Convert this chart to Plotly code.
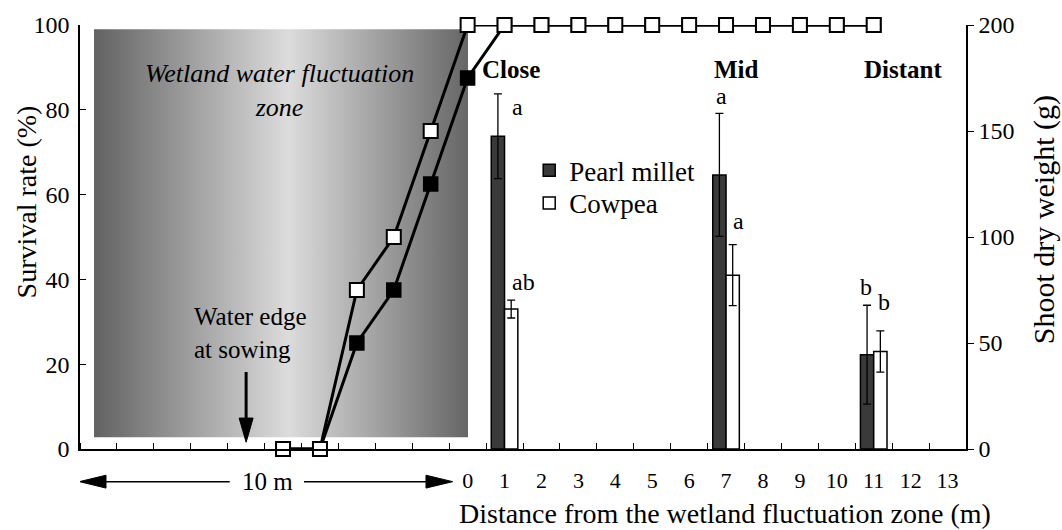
import plotly.graph_objects as go

# ---------------- data ----------------
# positions: negative = inside the 10 m wetland fluctuation zone, 0..13 = distance (m) from it
surv_x = [-5, -4, -3, -2, -1, 0, 1, 2, 3, 4, 5, 6, 7, 8, 9, 10, 11]
millet_surv = [0, 0, 25, 37.5, 62.5, 87.5, 100, 100, 100, 100, 100, 100, 100, 100, 100, 100, 100]
cowpea_surv = [0, 0, 37.5, 50, 75, 100, 100, 100, 100, 100, 100, 100, 100, 100, 100, 100, 100]

bar_x = [1, 7, 11]
zone_names = ["Close", "Mid", "Distant"]
millet_dw = [147.5, 129.3, 44.5]
millet_err = [20.0, 29.0, 23.3]
cowpea_dw = [66.0, 82.0, 46.0]
cowpea_err = [4.2, 14.4, 9.7]
millet_sig = ["a", "a", "b"]
cowpea_sig = ["ab", "a", "b"]

xtick_vals = list(range(0, 14))
xtick_text = [str(v) for v in xtick_vals]
left_ticks = [0, 20, 40, 60, 80, 100]
right_ticks = [0, 50, 100, 150, 200]

FONT = "Liberation Serif, Times New Roman, serif"
BAR_W = 0.36

fig = go.Figure()

# shaded wetland zone (horizontal gradient)
zx0, zx1, zy0, zy1 = -10.12, 0.01, 2.8, 99.0
fig.add_trace(go.Scatter(
    x=[zx0, zx1, zx1, zx0, zx0], y=[zy0, zy0, zy1, zy1, zy0],
    mode="lines", fill="toself", line=dict(width=0),
    fillgradient=dict(type="horizontal",
                      colorscale=[[0, "#626262"], [0.52, "#dcdcdc"], [1, "#666666"]]),
    hoverinfo="skip", showlegend=False))

# survival lines
fig.add_trace(go.Scatter(
    x=surv_x, y=millet_surv, mode="lines+markers", cliponaxis=False,
    line=dict(color="black", width=3),
    marker=dict(symbol="square", size=14, color="black", line=dict(color="black", width=1.5)),
    showlegend=False))
fig.add_trace(go.Scatter(
    x=surv_x, y=cowpea_surv, mode="lines+markers", cliponaxis=False,
    line=dict(color="black", width=3),
    marker=dict(symbol="square", size=14, color="white", line=dict(color="black", width=2)),
    showlegend=False))

# shoot dry weight bars
fig.add_trace(go.Bar(
    x=bar_x, y=millet_dw, name="Pearl millet", yaxis="y2", width=BAR_W, offset=-BAR_W,
    legend="legend",
    marker=dict(color="#3a3a3a", line=dict(color="black", width=1.5)),
    error_y=dict(type="data", array=millet_err, color="black", thickness=1.3, width=4)))
fig.add_trace(go.Bar(
    x=bar_x, y=cowpea_dw, name="Cowpea", yaxis="y2", width=BAR_W, offset=0,
    legend="legend2",
    marker=dict(color="white", line=dict(color="black", width=1.5)),
    error_y=dict(type="data", array=cowpea_err, color="black", thickness=1.3, width=4)))

ann = []
shapes = []
# zone text
ann.append(dict(x=-5.1, y=84.6, xref="x", yref="y", showarrow=False, xanchor="center",
                yanchor="middle", text="<i>Wetland water fluctuation<br>zone</i>",
                font=dict(family=FONT, size=26, color="black")))
ann.append(dict(x=-7.47, y=27.4, xref="x", yref="y", showarrow=False, xanchor="left",
                yanchor="middle", align="left", text="Water edge<br>at sowing",
                font=dict(family=FONT, size=25, color="black")))
# arrow for water edge (line + triangular head)
shapes.append(dict(type="line", xref="x", yref="y", x0=-6, x1=-6, y0=18.15, y1=6.5,
                   line=dict(color="black", width=3)))
shapes.append(dict(type="path", xref="x", yref="y",
                   path="M -6.19 7.3 L -5.81 7.3 L -6 1.6 Z",
                   fillcolor="black", line=dict(color="black", width=1)))
# 10 m arrows below the axis
ya = -0.077
hh = 0.0152
shapes.append(dict(type="line", xref="x", yref="paper", x0=-9.85, x1=-6.445, y0=ya, y1=ya,
                   line=dict(color="black", width=1.5)))
shapes.append(dict(type="line", xref="x", yref="paper", x0=-4.433, x1=-1.1, y0=ya, y1=ya,
                   line=dict(color="black", width=1.5)))
shapes.append(dict(type="path", xref="x", yref="paper",
                   path="M -10.516 %f L -9.796 %f L -9.796 %f Z" % (ya, ya + hh, ya - hh),
                   fillcolor="black", line=dict(color="black", width=1)))
shapes.append(dict(type="path", xref="x", yref="paper",
                   path="M -0.405 %f L -1.128 %f L -1.128 %f Z" % (ya, ya + hh, ya - hh),
                   fillcolor="black", line=dict(color="black", width=1)))
ann.append(dict(x=-5.41, y=ya, xref="x", yref="paper", showarrow=False, text="10 m",
                xanchor="center", yanchor="middle",
                font=dict(family=FONT, size=25, color="black")))
# zone names
for xn, nm, dx in zip(bar_x, zone_names, [-0.67, -0.39, 0.79]):
    ann.append(dict(x=xn + dx, y=89.5, xref="x", yref="y", showarrow=False,
                    xanchor="left" if nm != "Distant" else "center", yanchor="middle",
                    text="<b>%s</b>" % nm, font=dict(family=FONT, size=25, color="black")))
# significance letters
sig_pos_m = [(0.35, 161.1), (-0.11, 166.3), (-0.21, 76.2)]
sig_pos_c = [(0.51, 79.0), (0.35, 107.5), (0.29, 69.2)]
for xn, s, (dx, yy) in zip(bar_x, millet_sig, sig_pos_m):
    ann.append(dict(x=xn + dx, y=yy, xref="x", yref="y2", showarrow=False, text=s,
                    xanchor="center", yanchor="middle",
                    font=dict(family=FONT, size=24, color="black")))
for xn, s, (dx, yy) in zip(bar_x, cowpea_sig, sig_pos_c):
    ann.append(dict(x=xn + dx, y=yy, xref="x", yref="y2", showarrow=False, text=s,
                    xanchor="center", yanchor="middle",
                    font=dict(family=FONT, size=24, color="black")))
# axis titles
ann.append(dict(x=(725 - 80) / 886, y=(449.3 - 514) / 428.6, xref="paper", yref="paper",
                showarrow=False, xanchor="center", yanchor="middle",
                text="Distance from the wetland fluctuation zone (m)",
                font=dict(family=FONT, size=28, color="black")))
ann.append(dict(x=(26 - 80) / 886, y=(449.3 - 200) / 428.6, xref="paper", yref="paper",
                showarrow=False, textangle=-90, xanchor="center", yanchor="middle",
                text="Survival rate (%)",
                font=dict(family=FONT, size=28, color="black")))
ann.append(dict(x=(1044 - 80) / 886, y=(449.3 - 218) / 428.6, xref="paper", yref="paper",
                showarrow=False, textangle=-90, xanchor="center", yanchor="middle",
                text="Shoot dry weight (g)",
                font=dict(family=FONT, size=30, color="black")))

legend_common = dict(xanchor="left", yanchor="middle", bgcolor="rgba(0,0,0,0)",
                     font=dict(family=FONT, size=27, color="black"), itemwidth=30)

fig.update_layout(
    width=1062, height=530, autosize=False,
    margin=dict(l=80, r=96, t=21, b=81),
    paper_bgcolor="white", plot_bgcolor="white",
    font=dict(family=FONT, size=22, color="black"),
    barmode="overlay",
    xaxis=dict(range=[-10.5, 13.5], tickvals=xtick_vals, ticktext=xtick_text,
               ticks="", showgrid=False, zeroline=False, showline=True,
               linecolor="black", linewidth=1.5, ticklabelstandoff=11,
               tickfont=dict(family=FONT, size=22, color="black"),
               minor=dict(ticks="inside", tick0=-10.5, dtick=1, ticklen=6,
                          tickwidth=1.2, tickcolor="black", showgrid=False)),
    yaxis=dict(range=[0, 100], tickvals=left_ticks, ticks="inside", ticklen=6,
               tickwidth=1.2, tickcolor="black", showgrid=False, zeroline=False,
               showline=True, linecolor="black", linewidth=1.5, ticklabelstandoff=4,
               tickfont=dict(family=FONT, size=24, color="black")),
    yaxis2=dict(range=[0, 200], tickvals=right_ticks, overlaying="y", side="right",
                ticks="outside", ticklen=6, tickwidth=1.2, tickcolor="black",
                showgrid=False, zeroline=False, showline=True, linecolor="black",
                linewidth=1.5, tickfont=dict(family=FONT, size=24, color="black")),
    legend=dict(x=0.507, y=(449.3 - 168) / 428.6, **legend_common),
    legend2=dict(x=0.507, y=(449.3 - 201) / 428.6, **legend_common),
    annotations=ann,
    shapes=shapes,
)

fig.write_html("out.html", post_script="document.body.style.margin='0';",
               config={"displayModeBar": False})
